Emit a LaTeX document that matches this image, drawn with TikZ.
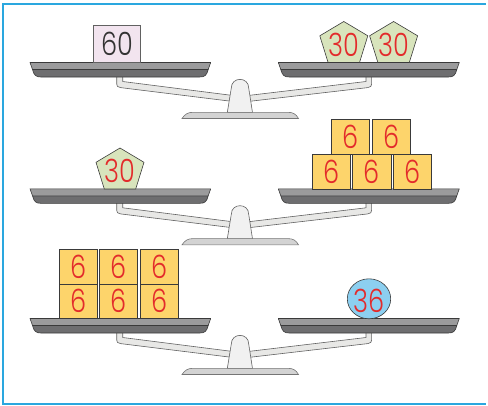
\documentclass[tikz,border=0pt]{standalone}
\usepackage{fontspec}
\newfontfamily\numfont{Poppins Light}[FakeStretch=0.8]
\definecolor{frameblue}{HTML}{2AA7DF}
\definecolor{pantopc}{HTML}{9B9B9C}
\definecolor{panbotc}{HTML}{6E6E70}
\definecolor{outl}{HTML}{3A3A3A}
\definecolor{beamc}{HTML}{E8E8E6}
\definecolor{pillarc}{HTML}{F1F1F1}
\definecolor{basec}{HTML}{D3D3D3}
\definecolor{pinkc}{HTML}{F2E4EF}
\definecolor{greenc}{HTML}{D8E4BC}
\definecolor{orangec}{HTML}{FDD46B}
\definecolor{bluec}{HTML}{8CCFF0}
\definecolor{redc}{HTML}{E32B2B}
\definecolor{darktext}{HTML}{333333}
\newcommand\mypan[2]{%
  \filldraw[panbot] (#1+2.5,69.5) -- (#2-2.5,69.5) .. controls (#2-4,75.5) and (#2-6,77) .. (#2-11,77) -- (#1+11,77) .. controls (#1+6,77) and (#1+4,75.5) .. (#1+2.5,69.5) -- cycle;
  \filldraw[pantop] (#1,62.5) -- (#2,62.5) -- (#2-2.5,69.5) -- (#1+2.5,69.5) -- cycle;}
\newcommand\mybalance{%
  \filldraw[beam] (122.7,76) -- (122.7,81.5) -- (233,95.5) -- (233,101.5) -- (120.5,87.6) .. controls (117.5,87.2) and (116.7,86) .. (116.7,84) -- (116.7,76) -- cycle;
  \filldraw[beam] (366,76) -- (366,81.5) -- (248,95.5) -- (248,101.5) -- (367.8,87.6) .. controls (370.8,87.2) and (371.6,86) .. (371.6,84) -- (371.6,76) -- cycle;
  \filldraw[pillar] (227.3,112.5) -- (231.3,88) .. controls (231.3,76.5) and (248.7,76.5) .. (248.7,88) -- (252.5,112.5) -- cycle;
  \filldraw[basest] (182,118.5) .. controls (185,114) and (188,112.3) .. (193,112.3) -- (288,112.3) .. controls (293,112.3) and (296,114) .. (298.5,118.5) -- cycle;
  \mypan{30}{210.7}
  \mypan{278.3}{459.3}}
\newcommand\mypent[2]{% center x, base y
  \filldraw[pent] (#1,#2-41) -- (#1+24,#2-26.7) -- (#1+15.7,#2) -- (#1-15.7,#2) -- (#1-24,#2-26.7) -- cycle;}
\begin{document}
\begin{tikzpicture}[x=1pt,y=-1pt,
  pantop/.style={fill=pantopc,draw=outl,line width=0.6pt,line join=round},
  panbot/.style={fill=panbotc,draw=outl,line width=0.6pt,line join=round},
  beam/.style={fill=beamc,draw=outl!80,line width=0.6pt,line join=round},
  pillar/.style={fill=pillarc,draw=outl!80,line width=0.6pt},
  basest/.style={fill=basec,draw=outl!70,line width=0.6pt},
  pent/.style={fill=greenc,draw=outl,line width=0.6pt,line join=round},
  cube/.style={fill=orangec,draw=outl,line width=0.6pt},
  num/.style={font=\numfont\fontsize{32}{32}\selectfont,text=redc,inner sep=0pt}]
\useasboundingbox (0,0) rectangle (488,405);
% frame (no right edge)
\draw[frameblue,line width=1.3pt] (486,4) -- (3,4) -- (3,404) -- (486,404);
% ---------- scale 1
\mybalance
\filldraw[fill=pinkc,draw=outl!80,line width=0.6pt] (93.3,25) rectangle (140.7,62.5);
\node[num,text=darktext] (t60) at (117.3,43.5) {60};
\mypent{343.8}{62.5}
\mypent{393.6}{62.5}
\node[num] (t30a) at (343.8,44.5) {30};
\node[num] (t30b) at (393.6,44.5) {30};
% ---------- scale 2
\begin{scope}[shift={(0,126.3)}]
\mybalance
\end{scope}
\mypent{120}{189}
\node[num] (t30c) at (120,171) {30};
\foreach \xa/\xb/\ya/\yb/\nm in {331/369.7/119.3/154/a,372/410.3/119.3/154/b,312.3/350.7/154/189/c,352.7/391/154/189/d,393.3/431.7/154/189/e}{
  \filldraw[cube] (\xa,\ya) rectangle (\xb,\yb);
  \node[num] (s\nm) at ({(\xa+\xb)/2},{(\ya+\yb)/2}) {6};
}
% ---------- scale 3
\begin{scope}[shift={(0,256)}]
\mybalance
\end{scope}
\foreach \xa/\xb/\nm in {59/97.3/a,99.3/137.7/b,140/178.3/c}{
  \foreach \ya/\yb/\rw in {249/284/u,284/318.5/l}{
    \filldraw[cube] (\xa,\ya) rectangle (\xb,\yb);
    \node[num] (c\nm\rw) at ({(\xa+\xb)/2},{(\ya+\yb)/2}) {6};
  }
}
\filldraw[fill=bluec,draw=outl,line width=0.6pt] (369,298.8) ellipse [x radius=21.7,y radius=20];
\node[num] (t36) at (369,300.5) {36};
\end{tikzpicture}
\end{document}
